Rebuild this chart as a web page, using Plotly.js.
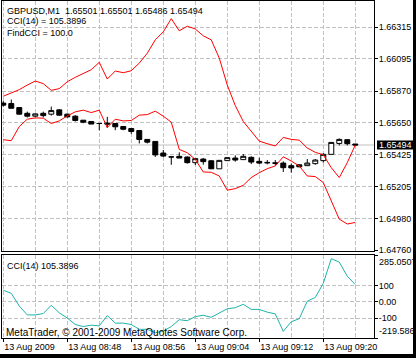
<!DOCTYPE html>
<html><head><meta charset="utf-8">
<script src="https://cdn.plot.ly/plotly-3.0.1.min.js"></script>
<style>html,body{margin:0;padding:0;background:#fff;}#chart{width:416px;height:358px;}</style>
</head><body><div id="chart"></div>
<script>
const day = '2009-08-13';
const symbol = 'GBPUSD', period = 'M1', cciPeriod = 14, findLevel = '100.0';
const times = ['08:40','08:41','08:42','08:43','08:44','08:45','08:46','08:47','08:48','08:49',
  '08:50','08:51','08:52','08:53','08:54','08:55','08:56','08:57','08:58','08:59',
  '09:00','09:01','09:02','09:03','09:04','09:05','09:06','09:07','09:08','09:09',
  '09:10','09:11','09:12','09:13','09:14','09:15','09:16','09:17','09:18','09:19',
  '09:20','09:21','09:22','09:23','09:24'];
const open = [1.65786,1.65783,1.65755,1.65715,1.65695,1.65715,1.65709,1.65739,1.65709,1.65695,
  1.65667,1.65658,1.65644,1.65647,1.65644,1.65623,1.65609,1.65595,1.65533,1.65519,
  1.65438,1.65411,1.65415,1.65410,1.65371,1.65396,1.65384,1.65328,1.65385,1.65403,
  1.65392,1.65408,1.65380,1.65373,1.65370,1.65368,1.65350,1.65356,1.65350,1.65364,
  1.65385,1.65429,1.65505,1.65531,1.65501];
const high = [1.65800,1.65811,1.65757,1.65727,1.65713,1.65727,1.65762,1.65743,1.65713,1.65702,
  1.65667,1.65658,1.65644,1.65690,1.65644,1.65623,1.65613,1.65597,1.65533,1.65519,
  1.65459,1.65411,1.65443,1.65415,1.65399,1.65403,1.65387,1.65387,1.65406,1.65422,
  1.65431,1.65415,1.65406,1.65389,1.65389,1.65380,1.65364,1.65359,1.65396,1.65396,
  1.65436,1.65512,1.65540,1.65533,1.65501];
const low = [1.65762,1.65750,1.65706,1.65686,1.65689,1.65686,1.65699,1.65699,1.65686,1.65658,
  1.65646,1.65640,1.65597,1.65614,1.65597,1.65597,1.65572,1.65505,1.65505,1.65411,
  1.65410,1.65356,1.65403,1.65364,1.65354,1.65357,1.65328,1.65328,1.65385,1.65378,
  1.65392,1.65361,1.65361,1.65359,1.65352,1.65306,1.65302,1.65339,1.65350,1.65357,
  1.65371,1.65429,1.65491,1.65491,1.65486];
const close = [1.65772,1.65750,1.65709,1.65695,1.65711,1.65699,1.65734,1.65702,1.65690,1.65665,
  1.65653,1.65640,1.65644,1.65640,1.65621,1.65604,1.65588,1.65533,1.65514,1.65425,
  1.65417,1.65411,1.65403,1.65371,1.65399,1.65378,1.65328,1.65387,1.65406,1.65389,
  1.65415,1.65375,1.65368,1.65370,1.65366,1.65336,1.65334,1.65342,1.65368,1.65389,
  1.65429,1.65512,1.65533,1.65503,1.65494];
const findUpper = [1.65834,1.65857,1.65880,1.65912,1.65940,1.65922,1.65875,1.65887,1.65935,1.65966,
  1.65991,1.66019,1.66070,1.65954,1.66010,1.65998,1.66012,1.66065,1.66134,1.66227,
  1.66283,1.66375,1.66290,1.66322,1.66303,1.66255,1.66227,1.66100,1.65912,1.65769,
  1.65658,1.65588,1.65521,1.65503,1.65487,1.65547,1.65533,1.65528,1.65473,1.65443,
  1.65426,1.65336,1.65267,1.65371,1.65494];
const findLower = [1.65531,1.65524,1.65623,1.65674,1.65683,1.65681,1.65644,1.65662,1.65697,1.65725,
  1.65737,1.65720,1.65737,1.65616,1.65674,1.65662,1.65665,1.65702,1.65706,1.65730,
  1.65695,1.65653,1.65463,1.65440,1.65394,1.65306,1.65304,1.65278,1.65179,1.65190,
  1.65213,1.65267,1.65301,1.65329,1.65348,1.65412,1.65382,1.65348,1.65278,1.65274,
  1.65232,1.65105,1.64977,1.64943,1.64954];
const cci = [70.8,52.1,-25.0,-79.2,-79.2,-70.8,-20.8,-66.7,-97.9,-137.5,
  -150.0,-141.7,-145.8,-83.3,-129.2,-129.2,-137.5,-166.7,-166.7,-187.5,
  -177.1,-150.0,-108.3,-114.6,-89.6,-81.3,-93.8,-68.8,-41.7,-35.4,
  -14.6,-45.8,-45.8,-62.5,-72.9,-179.2,-120.8,-102.1,4.2,27.1,
  112.5,262.5,241.7,156.3,105.3896];
const priceTicks = [1.66315,1.66095,1.65870,1.65650,1.65425,1.65205,1.64980,1.64760];
const priceTickText = ['1.66315','1.66095','1.65870','1.65650','1.65425','1.65205','1.64980','1.64760'];
const cciMax = 285.0507, cciMin = -219.586;
const cciTicks = [cciMax, 100, 0, -100, cciMin];
const cciTickText = ['', '100', '0.00', '-100', ''];
const timeTicks = ['08:40','08:48','08:56','09:04','09:12','09:20'];
const timeTickText = ['13 Aug 2009','13 Aug 08:48','13 Aug 08:56','13 Aug 09:04','13 Aug 09:12','13 Aug 09:20'];

const FONT = 'Liberation Sans, Arial, sans-serif';
const FS = 9;
const GRID = '#c0c0c0';
const x = times.map(t => day + ' ' + t);
const n = close.length;
const last = n - 1;
const fmt = v => v.toFixed(5);

const traces = [
  {type:'candlestick', x:x, open:open, high:high, low:low, close:close, xaxis:'x2', yaxis:'y',
   increasing:{line:{color:'#000', width:1}, fillcolor:'#fff'},
   decreasing:{line:{color:'#000', width:1}, fillcolor:'#000'},
   whiskerwidth:0, hoverinfo:'skip', showlegend:false},
  {type:'scatter', mode:'lines', x:x, y:findUpper, xaxis:'x2', yaxis:'y', line:{color:'#ff0000', width:1}, hoverinfo:'skip', showlegend:false},
  {type:'scatter', mode:'lines', x:x, y:findLower, xaxis:'x2', yaxis:'y', line:{color:'#ff0000', width:1}, hoverinfo:'skip', showlegend:false},
  {type:'scatter', mode:'lines', x:x, y:cci, xaxis:'x', yaxis:'y2', line:{color:'#20b2aa', width:1}, hoverinfo:'skip', showlegend:false}
];

const xRange = [day + ' 08:39:50.4', day + ' 09:26:20.4'];
const tickFont = {family:FONT, size:FS, color:'#000'};
const xCommon = {type:'date', range:xRange, showgrid:true, gridcolor:GRID, griddash:'4px,2px', gridwidth:1,
  showline:true, mirror:true, linecolor:'#000', linewidth:1, zeroline:false, fixedrange:true,
  tickmode:'array', tickvals:timeTicks.map(t => day + ' ' + t),
  minor:{dtick:240000, tick0:day + ' 08:40', showgrid:true, gridcolor:GRID, griddash:'4px,2px', ticks:''}};
const PL = 2, PR = 374, PT = 1, PB = 338;
const px = p => (p - PL) / (PR - PL);
const py = p => (PB - p) / (PB - PT);

const layout = {
  width:416, height:358, margin:{l:PL, r:416-PR, t:PT, b:358-PB},
  paper_bgcolor:'#fff', plot_bgcolor:'#fff', showlegend:false,
  font:{family:FONT, size:FS, color:'#000'},
  boxgap:0.38, boxgroupgap:0,
  xaxis: Object.assign({}, xCommon, {anchor:'y2', domain:[0,1], ticktext:timeTickText, tickangle:0,
    ticks:'outside', ticklen:3, tickcolor:'#000', tickfont:tickFont, ticklabelposition:'outside right'}),
  xaxis2: Object.assign({}, xCommon, {anchor:'y', domain:[0,1], matches:'x', showticklabels:false, ticks:'',
    rangeslider:{visible:false}}),
  yaxis: {domain:[py(251), 1], anchor:'x2', side:'right', range:[1.64755, 1.66498],
    tickmode:'array', tickvals:priceTicks, ticktext:priceTickText, ticks:'outside', ticklen:3, tickcolor:'#000',
    tickfont:tickFont, ticklabelstandoff:-1, showgrid:true, gridcolor:GRID, griddash:'4px,2px', showline:true, mirror:true,
    linecolor:'#000', linewidth:1, zeroline:false, fixedrange:true},
  yaxis2: {domain:[0, py(255)], anchor:'x', side:'right', range:[cciMin, cciMax],
    tickmode:'array', tickvals:cciTicks, ticktext:cciTickText, ticks:'outside', ticklen:3, tickcolor:'#000',
    tickfont:tickFont, ticklabelstandoff:-1, showgrid:true, gridcolor:GRID, griddash:'4px,2px', showline:true, mirror:true,
    linecolor:'#000', linewidth:1, zeroline:false, fixedrange:true},
  shapes: [
    {type:'line', xref:'x2 domain', x0:0, x1:1, yref:'y', y0:close[last], y1:close[last],
     line:{color:'#c0c0c0', width:1}, layer:'below'},
    {type:'rect', xref:'paper', x0:px(377), x1:px(413), yref:'y', ysizemode:'pixel', yanchor:close[last],
     y0:-4.5, y1:4.5, fillcolor:'#000', line:{width:0}},
    {type:'rect', xref:'paper', x0:px(0), x1:px(416), yref:'paper', y0:py(354), y1:py(358), fillcolor:'#000', line:{width:0}},
    {type:'rect', xref:'paper', x0:px(413), x1:px(416), yref:'paper', y0:py(0), y1:py(358), fillcolor:'#000', line:{width:0}}
  ],
  annotations: [
    {xref:'paper', yref:'paper', x:px(5), y:py(11), xanchor:'left', yanchor:'middle', showarrow:false,
     text: symbol + ',' + period + '\u00a0\u00a0' + [open[last], high[last], low[last], close[last]].map(fmt).join(' ')},
    {xref:'paper', yref:'paper', x:px(5), y:py(21), xanchor:'left', yanchor:'middle', showarrow:false,
     text:'CCI(' + cciPeriod + ') = ' + cci[last].toFixed(4)},
    {xref:'paper', yref:'paper', x:px(5), y:py(33), xanchor:'left', yanchor:'middle', showarrow:false,
     text:'FindCCI = ' + findLevel},
    {xref:'paper', yref:'paper', x:px(5), y:py(266), xanchor:'left', yanchor:'middle', showarrow:false,
     text:'CCI(' + cciPeriod + ') ' + cci[last].toFixed(4)},
    {xref:'paper', yref:'paper', x:px(4), y:py(332.5), xanchor:'left', yanchor:'middle', showarrow:false,
     text:'MetaTrader, \u00a9 2001-2009 MetaQuotes Software Corp.', font:{family:FONT, size:10, color:'#000'}},
    {xref:'paper', yref:'y', x:px(377), y:close[last], xanchor:'left', yanchor:'middle', showarrow:false,
     text:fmt(close[last]), font:{family:FONT, size:FS, color:'#fff'}},
    {xref:'paper', yref:'y2', x:px(377), y:cciMax, xanchor:'left', yanchor:'top', showarrow:false,
     text:String(cciMax)},
    {xref:'paper', yref:'y2', x:px(377), y:cciMin, xanchor:'left', yanchor:'bottom', showarrow:false,
     text:String(cciMin)}
  ]
};
Plotly.newPlot('chart', traces, layout, {staticPlot:true, displayModeBar:false});
</script></body></html>
